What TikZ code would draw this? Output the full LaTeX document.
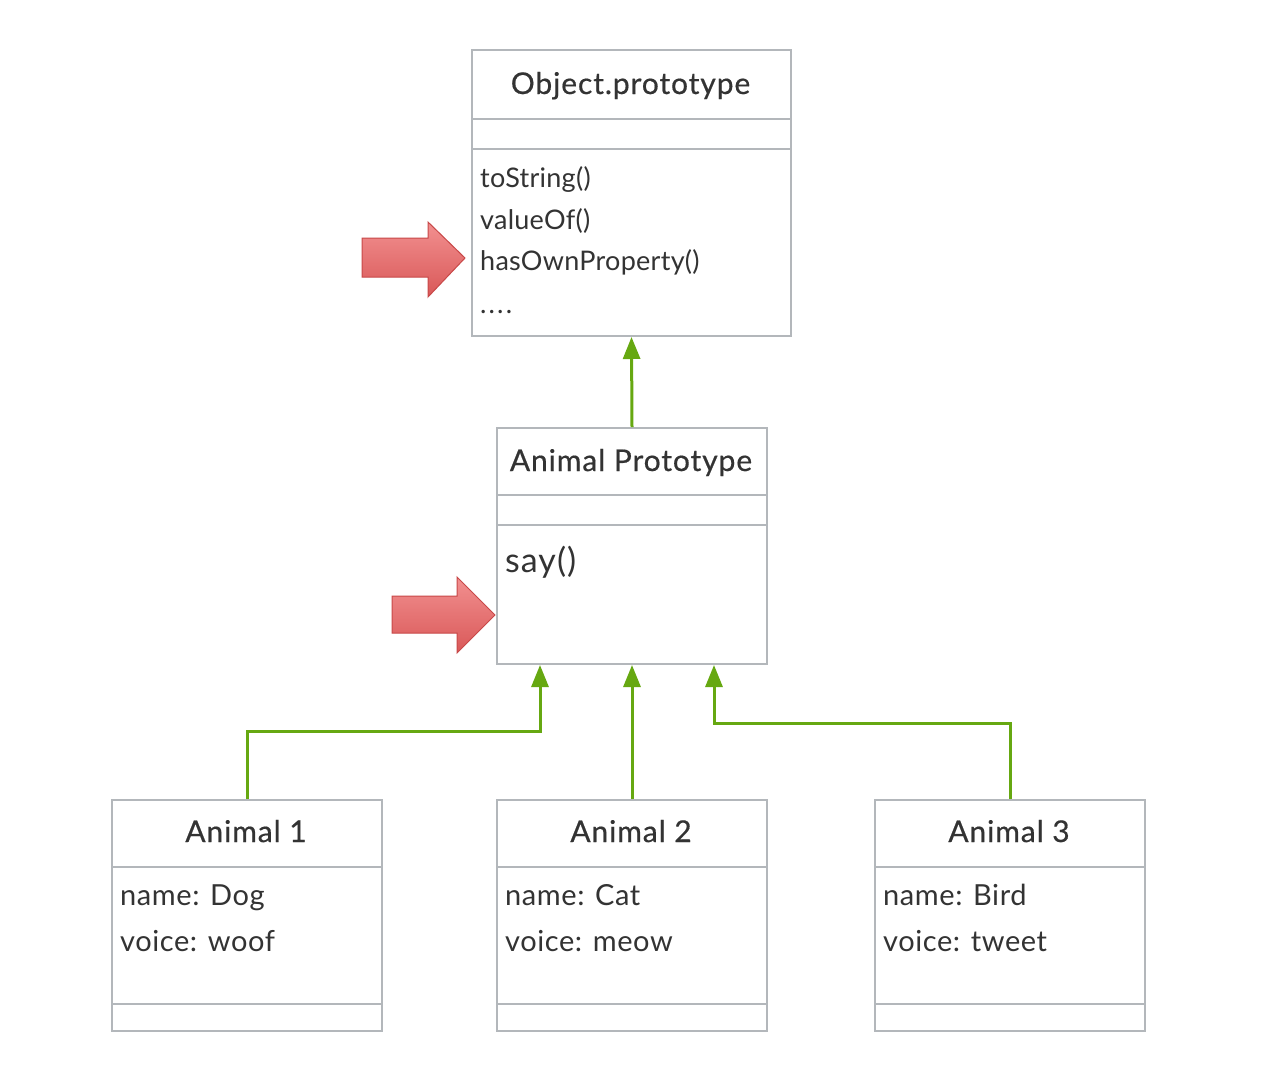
\documentclass[tikz,border=0pt]{standalone}
\usepackage{fontspec}
\setmainfont{Lato}
\newfontfamily\titlefont[FakeBold=0.5,LetterSpace=3]{Lato}
\newfontfamily\itemfont[LetterSpace=1]{Lato}
\newfontfamily\dotsfont[LetterSpace=8]{Lato}
\newfontfamily\attrfont[LetterSpace=2]{Lato}
\newfontfamily\sayfont[LetterSpace=3]{Lato}
\usetikzlibrary{arrows.meta}
\definecolor{boxgray}{HTML}{B3B7BB}
\definecolor{txt}{HTML}{333333}
\definecolor{grn}{HTML}{66A811}
\definecolor{redtop}{HTML}{F29090}
\definecolor{redbot}{HTML}{D95858}
\definecolor{redline}{HTML}{C84848}
\begin{document}
\begin{tikzpicture}[x=1pt,y=-1pt,
 umlbox/.style={draw=boxgray,line width=2pt,fill=white,inner sep=0pt,anchor=north west},
 divider/.style={draw=boxgray,line width=2pt},
 title/.style={font=\titlefont\fontsize{30}{34}\selectfont,text=txt,anchor=base,inner sep=0pt},
 item/.style={font=\itemfont\fontsize{27}{31}\selectfont,text=txt,anchor=base west,inner sep=0pt},
 attr/.style={font=\attrfont\fontsize{29}{33}\selectfont,text=txt,anchor=base west,inner sep=0pt},
 inherit/.style={draw=grn,line width=3pt,-{Triangle[length=22pt,width=17pt]}},
 redarrow/.style={draw=redline,line width=1pt,top color=redtop,bottom color=redbot}]
\useasboundingbox[fill=white] (0,0) rectangle (1286,1080);

% Object.prototype
\node[umlbox,minimum width=319pt,minimum height=286pt] (obj) at (471,49) {};
\draw[divider] (obj.west |- 0,119) -- (obj.east |- 0,119);
\draw[divider] (obj.west |- 0,149) -- (obj.east |- 0,149);
\node[title] (objt) at (630.5,94) {Object.prototype};
\node[item] (m1) at (480,187) {toString()};
\node[item] (m2) at (480,229) {valueOf()};
\node[item] (m3) at (480,270) {hasOwnProperty()};
\node[item,font=\dotsfont\fontsize{27}{31}\selectfont] (m4) at (480,313) {....};

% Animal Prototype
\node[umlbox,minimum width=270pt,minimum height=236pt] (ap) at (496,427) {};
\draw[divider] (ap.west |- 0,495) -- (ap.east |- 0,495);
\draw[divider] (ap.west |- 0,525) -- (ap.east |- 0,525);
\node[title] (apt) at (631,471) {Animal Prototype};
\node[item,font=\sayfont\fontsize{34}{38}\selectfont] (say) at (505,572) {say()};

% Animals
\node[umlbox,minimum width=270pt,minimum height=231pt] (a1) at (111,799) {};
\node[umlbox,minimum width=270pt,minimum height=231pt] (a2) at (496,799) {};
\node[umlbox,minimum width=270pt,minimum height=231pt] (a3) at (874,799) {};
\foreach \b in {a1,a2,a3}{
  \draw[divider] (\b.west |- 0,867) -- (\b.east |- 0,867);
  \draw[divider] (\b.west |- 0,1004) -- (\b.east |- 0,1004);
}
\node[title] (a1t) at (246,842) {Animal 1};
\node[title] (a2t) at (631,842) {Animal 2};
\node[title] (a3t) at (1009,842) {Animal 3};
\node[attr] (a1n) at (120,905) {name: Dog};
\node[attr] (a1v) at (120,951) {voice: woof};
\node[attr] (a2n) at (505,905) {name: Cat};
\node[attr] (a2v) at (505,951) {voice: meow};
\node[attr] (a3n) at (883,905) {name: Bird};
\node[attr] (a3v) at (883,951) {voice: tweet};

% inheritance connectors
\coordinate (t1) at ([xshift=-92pt]ap.south);
\coordinate (t3) at ([xshift=82pt]ap.south);
\draw[inherit] (ap.north) -- (obj.south);
\draw[inherit] (a1.north) |- (t1 |- 0,731) -- (t1);
\draw[inherit] (a2.north) -- (ap.south);
\draw[inherit] (a3.north) |- (t3 |- 0,723) -- (t3);

% red pointer arrows
\draw[redarrow] (362,238) -- (428,238) -- (428,222) -- (465,258) -- (428,297) -- (428,277) -- (362,277) -- cycle;
\draw[redarrow] (392,596) -- (457,596) -- (457,577) -- (495,615) -- (457,653) -- (457,633) -- (392,633) -- cycle;
\end{tikzpicture}
\end{document}
